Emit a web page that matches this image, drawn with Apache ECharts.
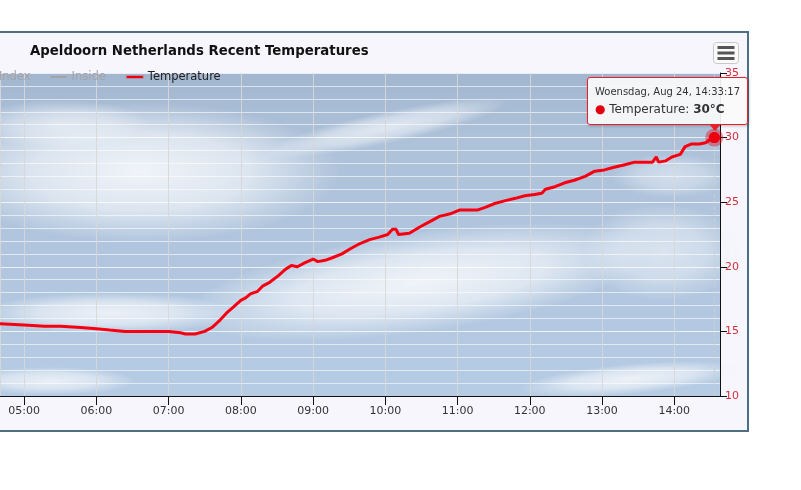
<!DOCTYPE html>
<html>
<head>
<meta charset="utf-8">
<script src="https://cdn.jsdelivr.net/npm/echarts@6/dist/echarts.min.js"></script>
<style>
  body { margin: 0; background: #fff; overflow: hidden; }
  #frame {
    position: absolute; left: -10px; top: 31px; width: 755px; height: 397px;
    border: 2px solid #4e6e85; background: #f6f6fc;
  }
  #chart { position: absolute; left: 0; top: 0; width: 801px; height: 490px; }
</style>
</head>
<body>
<div id="frame"></div>
<div id="chart"></div>
<script>
// gemeten waarden (temperatuur, buiten)
let day = "2022-08-24";
let dayLabel = "Woensdag, Aug 24";
let times = [
  "04:40", "05:00", "05:17", "05:30", "05:47", "06:00", "06:11", "06:24", "06:36", "07:00",
  "07:10", "07:14", "07:22", "07:30", "07:36", "07:43", "07:49", "07:54", "08:00", "08:04",
  "08:08", "08:14", "08:18", "08:24", "08:31", "08:37", "08:42", "08:47", "08:53", "09:00",
  "09:04", "09:10", "09:16", "09:24", "09:31", "09:39", "09:47", "09:55", "10:02", "10:06",
  "10:09", "10:11", "10:20", "10:29", "10:37", "10:45", "10:54", "11:02", "11:10", "11:17",
  "11:23", "11:31", "11:39", "11:48", "11:56", "12:04", "12:10", "12:13", "12:21", "12:29",
  "12:37", "12:46", "12:54", "13:02", "13:10", "13:19", "13:27", "13:35", "13:42", "13:45",
  "13:47", "13:53", "13:58", "14:05", "14:09", "14:14", "14:21", "14:26", "14:29", "14:33:17"
];
let temps = [
  15.6, 15.5, 15.4, 15.4, 15.3, 15.2, 15.1, 15.0, 15.0, 15.0,
  14.9, 14.8, 14.8, 15.0, 15.3, 15.9, 16.5, 16.9, 17.4, 17.6,
  17.9, 18.1, 18.5, 18.8, 19.3, 19.8, 20.1, 20.0, 20.3, 20.6,
  20.4, 20.5, 20.7, 21.0, 21.4, 21.8, 22.1, 22.3, 22.5, 22.9,
  22.9, 22.5, 22.6, 23.1, 23.5, 23.9, 24.1, 24.4, 24.4, 24.4,
  24.6, 24.9, 25.1, 25.3, 25.5, 25.6, 25.7, 26.0, 26.2, 26.5,
  26.7, 27.0, 27.4, 27.5, 27.7, 27.9, 28.1, 28.1, 28.1, 28.5,
  28.1, 28.2, 28.5, 28.7, 29.3, 29.5, 29.5, 29.6, 29.8, 30.0
];
let xMin = "04:40";
let xMax = "14:38";
let yTicks = [10, 35, 5]; // min, max, interval

let fontFamily = "DejaVu Sans";
let points = times.map((t, i) => [day + " " + t, temps[i]]);
let last = points[points.length - 1];

// wolken in de achtergrond (x, y, rx, ry, hoek, alpha)
let clouds = [
  [140, 172, 200, 70, 0, 0.92],
  [60, 124, 90, 24, 0, 0.6],
  [385, 128, 125, 16, 12, 0.7],
  [420, 282, 235, 50, 8, 0.92],
  [110, 313, 130, 20, 0, 0.85],
  [662, 252, 80, 48, 0, 0.6],
  [672, 176, 60, 22, 0, 0.5],
  [50, 381, 85, 14, 0, 0.8],
  [630, 379, 110, 15, 5, 0.85]
];
let cloudGraphics = clouds.map(c => ({
  type: "circle",
  x: c[0],
  y: c[1],
  scaleX: c[2] / c[3],
  rotation: c[4] * Math.PI / 180,
  z: 0.5,
  silent: true,
  shape: { cx: 0, cy: 0, r: c[3] },
  style: {
    fill: new echarts.graphic.RadialGradient(0.5, 0.5, 0.5, [
      { offset: 0, color: "rgba(246,248,251," + c[5] + ")" },
      { offset: 0.55, color: "rgba(240,244,249," + (c[5] * 0.75) + ")" },
      { offset: 1, color: "rgba(240,244,249,0)" }
    ])
  }
}));

let chart = echarts.init(document.getElementById("chart"));
let option = {
  backgroundColor: "transparent",
  animation: false,
  textStyle: { fontFamily: fontFamily },
  title: {
    text: "Apeldoorn Netherlands Recent Temperatures",
    left: 25,
    top: 40,
    textStyle: { fontSize: 13.3, fontWeight: "bold", color: "#111" }
  },
  legend: {
    left: -58,
    top: 66,
    icon: "rect",
    itemWidth: 16,
    itemHeight: 2,
    itemGap: 20,
    inactiveColor: "#a3a3a8",
    textStyle: { fontSize: 11.5, color: "#222" },
    data: ["Heat Index", "Inside", "Temperature"],
    selected: { "Heat Index": false, "Inside": false, "Temperature": true }
  },
  tooltip: {
    trigger: "axis",
    triggerOn: "none",
    alwaysShowContent: true,
    position: [587, 77],
    axisPointer: { type: "line", z: 1, lineStyle: { color: "rgba(205,205,205,0.9)", width: 1 } },
    backgroundColor: "rgba(250,250,250,0.92)",
    borderColor: "#e8202a",
    borderWidth: 1,
    padding: [6, 7],
    extraCssText: "border-radius:3px;box-shadow:1px 1px 3px rgba(0,0,0,0.25);",
    formatter: function (params) {
      let p = params.filter(q => q.seriesName === "Temperature")[0];
      return '<div style="font-size:10px;color:#333;font-family:DejaVu Sans;line-height:16px">' +
        dayLabel + ", " + echarts.time.format(p.value[0], "{HH}:{mm}:{ss}") + "</div>" +
        '<div style="font-size:12px;color:#333;font-family:DejaVu Sans;line-height:18px">' +
        '<span style="color:#e00010">\u25CF</span> ' + p.seriesName + ": <b>" +
        Math.round(p.value[1]) + "\u00B0C</b></div>" +
        '<div style="position:absolute;right:26px;bottom:-7px;width:0;height:0;' +
        'border-left:6px solid transparent;border-right:6px solid transparent;' +
        'border-top:7px solid #e8202a"></div>';
    }
  },
  grid: {
    left: 0,
    right: 81,
    top: 73,
    bottom: 94,
    show: true,
    borderWidth: 0,
    backgroundColor: new echarts.graphic.LinearGradient(0, 0, 0, 1, [
      { offset: 0, color: "#a2b6cf" },
      { offset: 0.2, color: "#adc1d9" },
      { offset: 1, color: "#b6cce4" }
    ])
  },
  xAxis: {
    type: "time",
    z: 1,
    min: day + " " + xMin,
    max: day + " " + xMax,
    minInterval: 3600 * 1000,
    maxInterval: 3600 * 1000,
    axisLine: { lineStyle: { color: "#111", width: 1 } },
    axisTick: { show: true, length: 9, lineStyle: { color: "#111" } },
    axisLabel: {
      formatter: "{HH}:{mm}",
      color: "#333",
      fontSize: 11,
      margin: 10,
      showMinLabel: false,
      showMaxLabel: false
    },
    splitLine: { show: true, lineStyle: { color: "rgba(215,215,215,0.9)" } }
  },
  yAxis: {
    type: "value",
    z: 1,
    position: "right",
    min: yTicks[0],
    max: yTicks[1],
    interval: yTicks[2],
    axisLine: { show: true, lineStyle: { color: "#111", width: 1 } },
    axisTick: { show: true, length: 7, lineStyle: { color: "#111" } },
    axisLabel: { color: "#d3303c", fontSize: 11, margin: 5 },
    splitLine: { show: true, lineStyle: { color: "rgba(255,255,255,0.75)" } },
    minorTick: { show: false, splitNumber: 5 },
    minorSplitLine: { show: true, lineStyle: { color: "rgba(255,255,255,0.6)" } }
  },
  series: [
    { name: "Heat Index", type: "line", data: [], color: "#888" },
    { name: "Inside", type: "line", data: [], color: "#888" },
    {
      name: "Temperature",
      type: "line",
      z: 3,
      color: "#e00010",
      showSymbol: false,
      symbol: "circle",
      symbolSize: 11,
      itemStyle: { color: "#ee0010", borderColor: "rgba(230,0,16,0.22)", borderWidth: 7 },
      emphasis: { scale: false, itemStyle: { color: "#ee0010", borderColor: "rgba(230,0,16,0.22)", borderWidth: 7 } },
      lineStyle: { width: 3, color: "#e00010" },
      data: points,
      markPoint: {
        symbol: "circle",
        symbolSize: 11,
        label: { show: false },
        itemStyle: { color: "#ee0010", borderColor: "rgba(230,0,16,0.22)", borderWidth: 7 },
        data: [{ coord: last }]
      }
    }
  ],
  graphic: cloudGraphics.concat([{
    type: "group",
    left: 713,
    top: 42,
    children: [
      { type: "rect", shape: { x: 0, y: 0, width: 25, height: 21, r: 3 },
        style: { fill: "#f9f9f9", stroke: "#c8c8c8", lineWidth: 1 } },
      { type: "line", shape: { x1: 4, y1: 5, x2: 21, y2: 5 }, style: { stroke: "#555", lineWidth: 3 } },
      { type: "line", shape: { x1: 4, y1: 10.5, x2: 21, y2: 10.5 }, style: { stroke: "#555", lineWidth: 3 } },
      { type: "line", shape: { x1: 4, y1: 16, x2: 21, y2: 16 }, style: { stroke: "#555", lineWidth: 3 } }
    ]
  }])
};
chart.setOption(option, true);
chart.dispatchAction({ type: "showTip", seriesIndex: 2, dataIndex: points.length - 1 });
</script>
</body>
</html>
